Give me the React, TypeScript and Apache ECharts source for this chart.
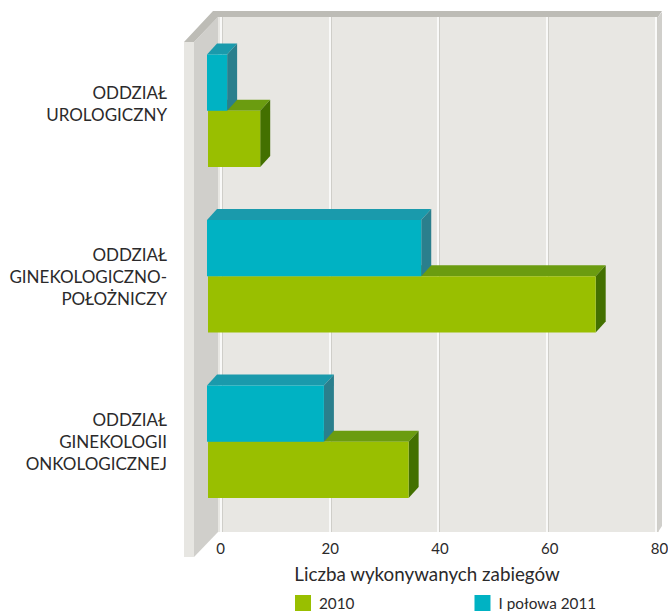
import React, { useEffect, useRef } from "react";
import * as echarts from "echarts";

const categories = [
  "{a|ODDZIAŁ}\n{a|UROLOGICZNY}\n{s| }",
  "{a|ODDZIAŁ}\n{a|GINEKOLOGICZNO-}\n{a|POŁOŻNICZY}",
  "{a|ODDZIAŁ}\n{a|GINEKOLOGII}\n{a|ONKOLOGICZNEJ}",
];
const values2010 = [9.6, 71.3, 36.9];
const valuesH1 = [3.7, 39.4, 21.5];
const seriesNames = ["2010", "I połowa 2011"];
const axisTitle = "Liczba wykonywanych zabiegów";
const FONT = "Lato, sans-serif";
const INK = "#2b2a2b";

const makeBar = (colors: string[], side: number, shift: number) => (params: any, api: any) => {
  const i = api.value(0);
  const dx = 10;
  const dy = 11;
  const p0 = api.coord([0, i]);
  const p1 = api.coord([api.value(1), i]);
  const h = api.size([0, 1])[1] * 0.34;
  const x0 = p0[0] - shift;
  const x1 = p1[0] - shift;
  const y0 = side < 0 ? p0[1] - h : p0[1];
  const y1 = y0 + h;
  return {
    type: "group",
    children: [
      { type: "polygon", shape: { points: [[x0, y0], [x0 + dx, y0 - dy], [x1 + dx, y0 - dy], [x1, y0]] }, style: { fill: colors[1] } },
      { type: "polygon", shape: { points: [[x1, y0], [x1 + dx, y0 - dy], [x1 + dx, y1 - dy], [x1, y1]] }, style: { fill: colors[2] } },
      { type: "rect", shape: { x: x0, y: y0, width: x1 - x0, height: h }, style: { fill: colors[0] } },
    ],
  };
};

const wall = (points: number[][], fill: string) => ({ type: "polygon", z: -10, silent: true, shape: { points }, style: { fill } });

export default function App() {
  const ref = useRef<HTMLDivElement>(null);
  useEffect(() => {
    document.body.style.margin = "0";
    const chart = echarts.init(ref.current!, undefined, { renderer: "svg" });
    const L = 222, R = 11;
    const plain = { axisLine: { show: false }, axisTick: { show: false } };
    const free = { outerBoundsMode: "none" };
    chart.setOption({
      animation: false,
      backgroundColor: "#ffffff",
      textStyle: { fontFamily: FONT },
      graphic: { elements: [
        wall([[218, 17], [659, 17], [659, 532], [218, 532]], "#e8e7e3"),
        wall([[194, 42], [218, 17], [218, 532], [194, 557]], "#d0cfcb"),
        wall([[184, 42], [194, 42], [194, 557], [184, 557]], "#e7e6e2"),
        wall([[184, 42], [213, 11], [662, 11], [658, 17], [218, 17], [194, 42]], "#bdbcb6"),
        wall([[658, 17], [662, 12], [662, 526], [658, 532]], "#d0cfcb"),
      ] },
      grid: [
        { ...free, left: L, right: R, top: 17, bottom: 79 },
        { ...free, left: L - 1.5, right: R + 1.5, top: 17, bottom: 79 },
        { ...free, left: L, right: R, top: 28, bottom: 86.5 },
        { ...free, left: 220.5, right: 8.5, top: 17, bottom: 79 },
      ],
      xAxis: [
        { gridIndex: 0, type: "value", min: 0, max: 80, interval: 20, ...plain, axisLabel: { show: false },
          splitLine: { lineStyle: { color: "#cfcec9", width: 1 } } },
        { gridIndex: 1, type: "value", min: 0, max: 80, interval: 20, ...plain, axisLabel: { show: false },
          splitLine: { lineStyle: { color: "#ffffff", width: 1.5 } } },
        { gridIndex: 2, type: "value", min: 0, max: 80, interval: 20, show: false },
        { gridIndex: 3, type: "value", min: 0, max: 80, interval: 20, ...plain, splitLine: { show: false },
          axisLabel: { color: INK, fontSize: 15, margin: 8, fontFamily: FONT, hideOverlap: false },
          name: axisTitle, nameLocation: "middle", nameGap: 32,
          nameTextStyle: { color: INK, fontSize: 18.8, fontFamily: FONT, padding: [0, 26, 0, 0] } },
      ],
      yAxis: [
        { gridIndex: 0, type: "category", show: false, data: categories },
        { gridIndex: 1, type: "category", show: false, data: categories },
        { gridIndex: 2, type: "category", inverse: true, data: categories, ...plain, splitLine: { show: false },
          axisLabel: { interval: 0, margin: 55, align: "right", rich: {
            a: { fontSize: 17, lineHeight: 22, color: INK, fontFamily: FONT, align: "right" },
            s: { fontSize: 1, lineHeight: 14 },
          } } },
        { gridIndex: 3, type: "category", show: false, data: categories },
      ],
      legend: { left: 295, top: 595, padding: 0, itemWidth: 16, itemHeight: 16, itemGap: 120, icon: "rect",
        textStyle: { color: INK, fontSize: 15.3, fontFamily: FONT, padding: [0, 0, 0, 3] },
        data: seriesNames },
      series: [
        { type: "custom", name: seriesNames[0], xAxisIndex: 2, yAxisIndex: 2, z: 5,
          renderItem: makeBar(["#99bf00", "#6b9c10", "#437000"], 1, 14),
          itemStyle: { color: "#99bf00" }, encode: { x: 1, y: 0 },
          data: values2010.map((v, i) => [i, v]) },
        { type: "custom", name: seriesNames[1], xAxisIndex: 2, yAxisIndex: 2, z: 6,
          renderItem: makeBar(["#00b2c3", "#1a9aac", "#2a7f8d"], -1, 15),
          itemStyle: { color: "#00b2c3" }, encode: { x: 1, y: 0 },
          data: valuesH1.map((v, i) => [i, v]) },
      ],
    });
    return () => chart.dispose();
  }, []);
  return <div ref={ref} style={{ width: 668, height: 611 }} />;
}
